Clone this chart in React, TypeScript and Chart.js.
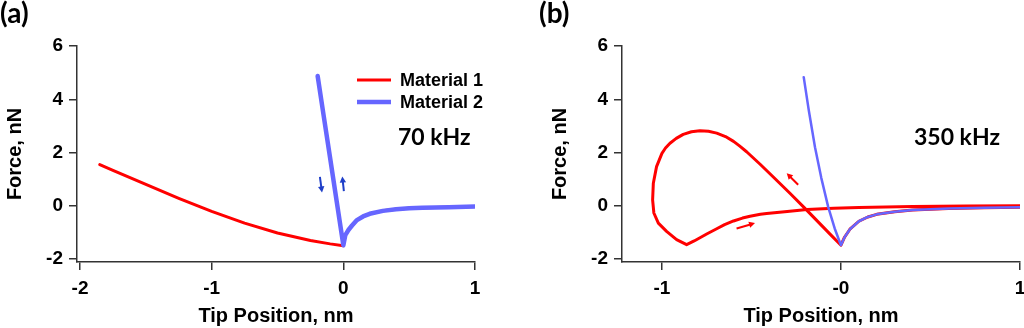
import React, { useEffect, useRef } from "react";
import { Chart, registerables } from "chart.js";

Chart.register(...registerables);

// ---------- data ----------
// Panel (a) 70 kHz
const m1aX = [-1.85, -1.75, -1.5, -1.25, -1.0, -0.75, -0.5, -0.25, -0.1, 0.0, 0.015, 0.04, 0.066, 0.1, 0.15, 0.2, 0.3, 0.4, 0.5, 0.6, 0.8, 1.0];
const m1aY = [1.55, 1.33, 0.8, 0.28, -0.21, -0.65, -1.02, -1.3, -1.43, -1.5, -1.1, -0.9, -0.74, -0.55, -0.4, -0.3, -0.19, -0.13, -0.09, -0.07, -0.05, -0.03];
const m2aX = [1.0, 0.8, 0.6, 0.5, 0.4, 0.3, 0.2, 0.15, 0.1, 0.066, 0.04, 0.015, 0.0, -0.05, -0.1, -0.15, -0.195];
const m2aY = [-0.03, -0.05, -0.07, -0.09, -0.13, -0.19, -0.3, -0.4, -0.55, -0.74, -0.9, -1.1, -1.48, 0.15, 1.78, 3.4, 4.87];

// Panel (b) 350 kHz
const m1bX = [1.0, 0.8, 0.6, 0.4, 0.3, 0.2, 0.15, 0.1, 0.05, 0.02, 0.0, -0.05, -0.099, -0.19, -0.285, -0.378, -0.45, -0.527, -0.565, -0.6, -0.645, -0.694, -0.74, -0.788, -0.835, -0.881, -0.92, -0.955, -0.98, -1.0, -1.03, -1.048, -1.052, -1.045, -1.02, -0.974, -0.918, -0.862, -0.82, -0.75, -0.694, -0.65, -0.6, -0.55, -0.508, -0.45, -0.415, -0.3, -0.19, -0.04, 0.1, 0.4, 0.7, 1.0];
const m1bY = [-0.05, -0.07, -0.1, -0.16, -0.22, -0.32, -0.42, -0.58, -0.88, -1.18, -1.48, -1.14, -0.8, -0.17, 0.47, 1.08, 1.55, 2.03, 2.24, 2.42, 2.6, 2.73, 2.8, 2.82, 2.78, 2.68, 2.53, 2.35, 2.17, 1.97, 1.47, 0.85, 0.22, -0.27, -0.65, -0.96, -1.27, -1.46, -1.32, -1.06, -0.86, -0.71, -0.57, -0.46, -0.39, -0.32, -0.29, -0.21, -0.14, -0.09, -0.06, -0.03, -0.01, 0.0];
const m2bX = [1.0, 0.8, 0.6, 0.4, 0.3, 0.2, 0.15, 0.1, 0.05, 0.02, 0.0, -0.035, -0.071, -0.11, -0.145, -0.18, -0.208];
const m2bY = [-0.05, -0.07, -0.1, -0.16, -0.22, -0.32, -0.42, -0.58, -0.88, -1.18, -1.48, -0.85, -0.05, 1.05, 2.2, 3.6, 4.83];

// axes
const yTicks = [-2, 0, 2, 4, 6];
const yTickLabels = ["-2", "0", "2", "4", "6"];
const xTicksA = [-2, -1, 0, 1];
const xTickLabelsA = ["-2", "-1", "0", "1"];
const xTicksB = [-1, 0, 1];
const xTickLabelsB = ["-1", "-0", "1"];

// direction arrows (data coordinates: [xFrom, yFrom, xTo, yTo])
const arrowsA = [
  [-0.178, 1.09, -0.162, 0.5],
  [0.004, 0.55, -0.008, 1.1],
];
const arrowsB = [
  [-0.239, 0.79, -0.303, 1.22],
  [-0.583, -0.85, -0.48, -0.65],
];

const seriesLabels = ["Material 1", "Material 2"];

const RED = "#ff0000";
const BLUE = "#6666ff";
const ARROW_BLUE = "#1f3fc8";
const AXIS = "#333333";
const SANS = '"Liberation Sans", Arial, sans-serif';
const CAL = 'Lato, "Open Sans", sans-serif';

function pts(xs: number[], ys: number[]) {
  return xs.map((x, i) => ({ x, y: ys[i] }));
}

type PanelCfg = {
  panel: string;
  panelX: number;
  freq: string;
  freqX: number;
  legend: boolean;
  arrows: number[][];
  arrowColor: string;
};

function makeDecor(cfg: PanelCfg) {
  return {
    id: "decor",
    afterDatasetsDraw(chart: any) {
      const ctx = chart.ctx as CanvasRenderingContext2D;
      const xs = chart.scales.x;
      const ys = chart.scales.y;
      ctx.save();
      // arrows
      for (const a of cfg.arrows) {
        const x1 = xs.getPixelForValue(a[0]);
        const y1 = ys.getPixelForValue(a[1]);
        const x2 = xs.getPixelForValue(a[2]);
        const y2 = ys.getPixelForValue(a[3]);
        const ang = Math.atan2(y2 - y1, x2 - x1);
        const hl = 6;
        const hw = 3.2;
        ctx.strokeStyle = cfg.arrowColor;
        ctx.fillStyle = cfg.arrowColor;
        ctx.lineWidth = 2;
        ctx.beginPath();
        ctx.moveTo(x1, y1);
        ctx.lineTo(x2 - Math.cos(ang) * hl * 0.8, y2 - Math.sin(ang) * hl * 0.8);
        ctx.stroke();
        ctx.beginPath();
        ctx.moveTo(x2, y2);
        ctx.lineTo(x2 - Math.cos(ang) * hl - Math.sin(ang) * hw, y2 - Math.sin(ang) * hl + Math.cos(ang) * hw);
        ctx.lineTo(x2 - Math.cos(ang) * hl + Math.sin(ang) * hw, y2 - Math.sin(ang) * hl - Math.cos(ang) * hw);
        ctx.closePath();
        ctx.fill();
      }
      // panel label
      ctx.fillStyle = "#000";
      ctx.textBaseline = "top";
      ctx.textAlign = "left";
      ctx.font = `bold 28px ${CAL}`;
      ctx.fillText(cfg.panel, cfg.panelX, 0);
      // frequency label
      ctx.font = `bold 23px ${CAL}`;
      ctx.textBaseline = "middle";
      ctx.fillText(cfg.freq, cfg.freqX, 138);
      // legend
      if (cfg.legend) {
        const ds = chart.data.datasets;
        const rows = [
          { y: 80, ds: ds[0] },
          { y: 102, ds: ds[1] },
        ];
        ctx.font = `bold 18px ${SANS}`;
        for (const r of rows) {
          ctx.strokeStyle = r.ds.borderColor;
          ctx.lineWidth = r.ds.borderWidth;
          ctx.beginPath();
          ctx.moveTo(357, r.y);
          ctx.lineTo(391, r.y);
          ctx.stroke();
          ctx.fillStyle = "#000";
          ctx.fillText(r.ds.label, 400, r.y + 1);
        }
      }
      ctx.restore();
    },
  };
}

function makeConfig(
  m1: { x: number; y: number }[],
  m2: { x: number; y: number }[],
  xMin: number,
  xMax: number,
  xTicks: number[],
  xLabels: string[],
  padLeft: number,
  padRight: number,
  w1: number,
  w2: number,
  cfg: PanelCfg
): any {
  const tickFont = { family: SANS, weight: "bold" as const, size: 19 };
  const titleFont = { family: SANS, weight: "bold" as const, size: 20 };
  return {
    type: "scatter",
    data: {
      datasets: [
        {
          label: seriesLabels[0],
          data: m1,
          showLine: true,
          borderColor: RED,
          backgroundColor: RED,
          borderWidth: w1,
          pointRadius: 0,
          pointHoverRadius: 0,
          tension: 0,
          order: 2,
          borderJoinStyle: "round",
          borderCapStyle: "round",
        },
        {
          label: seriesLabels[1],
          data: m2,
          showLine: true,
          borderColor: BLUE,
          backgroundColor: BLUE,
          borderWidth: w2,
          pointRadius: 0,
          pointHoverRadius: 0,
          tension: 0,
          order: 1,
          borderJoinStyle: "round",
          borderCapStyle: "round",
        },
      ],
    },
    options: {
      responsive: false,
      animation: false,
      events: [],
      layout: { padding: { left: padLeft, top: 46, right: padRight, bottom: 0 } },
      plugins: { legend: { display: false }, tooltip: { enabled: false } },
      scales: {
        x: {
          type: "linear",
          min: xMin,
          max: xMax,
          afterBuildTicks: (s: any) => {
            s.ticks = xTicks.map((v) => ({ value: v }));
          },
          afterFit: (s: any) => {
            s.height = 66;
            s.paddingLeft = 0;
            s.paddingRight = 0;
          },
          ticks: {
            callback: (_v: any, i: number) => xLabels[i],
            font: tickFont,
            color: "#000",
            padding: 7,
            maxRotation: 0,
            autoSkip: false,
          },
          grid: {
            display: true,
            drawOnChartArea: false,
            drawTicks: true,
            tickLength: 8,
            color: AXIS,
            lineWidth: 1.5,
          },
          border: { display: true, color: AXIS, width: 1.5 },
          title: {
            display: true,
            text: "Tip Position, nm",
            font: titleFont,
            color: "#000",
            padding: { top: 0, bottom: 0 },
          },
        },
        y: {
          type: "linear",
          min: -2.11,
          max: 6,
          afterBuildTicks: (s: any) => {
            s.ticks = yTicks.map((v) => ({ value: v }));
          },
          afterFit: (s: any) => {
            s.width = 77;
          },
          ticks: {
            callback: (_v: any, i: number) => yTickLabels[i],
            font: tickFont,
            color: "#000",
            padding: 6,
            autoSkip: false,
          },
          grid: {
            display: true,
            drawOnChartArea: false,
            drawTicks: true,
            tickLength: 8,
            color: AXIS,
            lineWidth: 1.5,
          },
          border: { display: true, color: AXIS, width: 1.5 },
          title: {
            display: true,
            text: "Force, nN",
            font: titleFont,
            color: "#000",
            padding: { top: 3, bottom: 0 },
          },
        },
      },
    },
    plugins: [makeDecor(cfg)],
  };
}

function Panel(props: { build: () => any }) {
  const ref = useRef<HTMLCanvasElement | null>(null);
  useEffect(() => {
    if (!ref.current) return;
    const chart = new Chart(ref.current, props.build());
    return () => chart.destroy();
  }, []);
  return <canvas ref={ref} width={512} height={328} style={{ display: "block", width: 512, height: 328 }} />;
}

export default function App() {
  return (
    <div style={{ position: "absolute", left: 0, top: 0, width: 1024, height: 328, display: "flex", background: "#fff" }}>
      <Panel
        build={() =>
          makeConfig(pts(m1aX, m1aY), pts(m2aX, m2aY), -2.023, 1.0, xTicksA, xTickLabelsA, 0, 37, 3, 4.5, {
            panel: "(a)",
            panelX: 0,
            freq: "70 kHz",
            freqX: 398,
            legend: true,
            arrows: arrowsA,
            arrowColor: ARROW_BLUE,
          })
        }
      />
      <Panel
        build={() =>
          makeConfig(pts(m1bX, m1bY), pts(m2bX, m2bY), -1.223, 1.0, xTicksB, xTickLabelsB, 33, 4, 3, 2.5, {
            panel: "(b)",
            panelX: 27,
            freq: "350 kHz",
            freqX: 402,
            legend: false,
            arrows: arrowsB,
            arrowColor: RED,
          })
        }
      />
    </div>
  );
}
